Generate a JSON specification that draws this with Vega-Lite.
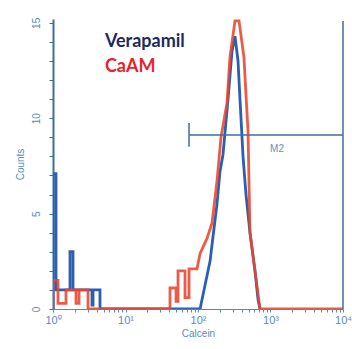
{
  "$schema": "https://vega.github.io/schema/vega-lite/v6.json",
  "width": 290,
  "height": 290,
  "autosize": "none",
  "padding": {"left": 53, "top": 19, "right": 9, "bottom": 40},
  "background": "white",
  "config": {
    "view": {"stroke": null},
    "axis": {"labelFont": "Liberation Sans", "titleFont": "Liberation Sans", "grid": false}
  },
  "datasets": {
    "hist": [
      {"s": "blue", "i": 1, "x": 1, "c": 0},
      {"s": "blue", "i": 2, "x": 1, "c": 7.1},
      {"s": "blue", "i": 3, "x": 1.1, "c": 7.1},
      {"s": "blue", "i": 4, "x": 1.1, "c": 1},
      {"s": "blue", "i": 5, "x": 1.716, "c": 1},
      {"s": "blue", "i": 6, "x": 1.716, "c": 3},
      {"s": "blue", "i": 7, "x": 1.888, "c": 3},
      {"s": "blue", "i": 8, "x": 1.888, "c": 1},
      {"s": "blue", "i": 9, "x": 3.451, "c": 1},
      {"s": "blue", "i": 10, "x": 3.451, "c": 0.2},
      {"s": "blue", "i": 11, "x": 3.565, "c": 0.2},
      {"s": "blue", "i": 12, "x": 3.565, "c": 1},
      {"s": "blue", "i": 13, "x": 4.446, "c": 1},
      {"s": "blue", "i": 14, "x": 4.446, "c": 0},
      {"s": "blue", "i": 15, "x": 106.7, "c": 0},
      {"s": "blue", "i": 16, "x": 121.1, "c": 1},
      {"s": "blue", "i": 17, "x": 137.4, "c": 2},
      {"s": "blue", "i": 18, "x": 146.6, "c": 2.5},
      {"s": "blue", "i": 19, "x": 161.1, "c": 3.8},
      {"s": "blue", "i": 20, "x": 182.8, "c": 5.5},
      {"s": "blue", "i": 21, "x": 200.9, "c": 7.2},
      {"s": "blue", "i": 22, "x": 221.3, "c": 8.1},
      {"s": "blue", "i": 23, "x": 259.4, "c": 11},
      {"s": "blue", "i": 24, "x": 294.4, "c": 13.5},
      {"s": "blue", "i": 25, "x": 323.6, "c": 14.3},
      {"s": "blue", "i": 26, "x": 356.5, "c": 13},
      {"s": "blue", "i": 27, "x": 379.3, "c": 11},
      {"s": "blue", "i": 28, "x": 417.8, "c": 8},
      {"s": "blue", "i": 29, "x": 459.2, "c": 6},
      {"s": "blue", "i": 30, "x": 521.2, "c": 4},
      {"s": "blue", "i": 31, "x": 610.9, "c": 2},
      {"s": "blue", "i": 32, "x": 673, "c": 0.5},
      {"s": "blue", "i": 33, "x": 716.1, "c": 0},
      {"s": "red", "i": 1, "x": 1, "c": 0},
      {"s": "red", "i": 2, "x": 1, "c": 1.5},
      {"s": "red", "i": 3, "x": 1.172, "c": 1.5},
      {"s": "red", "i": 4, "x": 1.172, "c": 0.3},
      {"s": "red", "i": 5, "x": 1.51, "c": 0.3},
      {"s": "red", "i": 6, "x": 1.51, "c": 1},
      {"s": "red", "i": 7, "x": 2.075, "c": 1},
      {"s": "red", "i": 8, "x": 2.075, "c": 0.3},
      {"s": "red", "i": 9, "x": 2.286, "c": 0.3},
      {"s": "red", "i": 10, "x": 2.286, "c": 1},
      {"s": "red", "i": 11, "x": 3.041, "c": 1},
      {"s": "red", "i": 12, "x": 3.041, "c": 0},
      {"s": "red", "i": 13, "x": 41.1, "c": 0},
      {"s": "red", "i": 14, "x": 41.1, "c": 1.1},
      {"s": "red", "i": 15, "x": 49.8, "c": 1.1},
      {"s": "red", "i": 16, "x": 49.8, "c": 0.4},
      {"s": "red", "i": 17, "x": 53, "c": 0.4},
      {"s": "red", "i": 18, "x": 53, "c": 2},
      {"s": "red", "i": 19, "x": 66.2, "c": 2},
      {"s": "red", "i": 20, "x": 66.2, "c": 0.6},
      {"s": "red", "i": 21, "x": 75.2, "c": 0.6},
      {"s": "red", "i": 22, "x": 75.2, "c": 2.1},
      {"s": "red", "i": 23, "x": 96.8, "c": 2.1},
      {"s": "red", "i": 24, "x": 106.7, "c": 2.9},
      {"s": "red", "i": 25, "x": 133, "c": 3.7},
      {"s": "red", "i": 26, "x": 156, "c": 4.5},
      {"s": "red", "i": 27, "x": 182.8, "c": 6.7},
      {"s": "red", "i": 28, "x": 207.5, "c": 9},
      {"s": "red", "i": 29, "x": 251.2, "c": 10.8},
      {"s": "red", "i": 30, "x": 276.1, "c": 13.2},
      {"s": "red", "i": 31, "x": 323.6, "c": 15.1},
      {"s": "red", "i": 32, "x": 368, "c": 15.1},
      {"s": "red", "i": 33, "x": 430, "c": 13.2},
      {"s": "red", "i": 34, "x": 489.8, "c": 9.3},
      {"s": "red", "i": 35, "x": 521.2, "c": 4},
      {"s": "red", "i": 36, "x": 610.9, "c": 2},
      {"s": "red", "i": 37, "x": 716.1, "c": 0},
      {"s": "red", "i": 38, "x": 10000, "c": 0}
    ],
    "marker": [{"x": 75.2, "x2": 10000, "y": 9.12, "ylo": 8.5, "yhi": 9.75}],
    "edge": [{"x": 10000, "y": 0, "y2": 15.1}],
    "labels": [
      {"t": "Verapamil", "x": 5.2, "y": 13.75, "col": "#1f2a5e"},
      {"t": "CaAM", "x": 5.2, "y": 12.42, "col": "#e8232a"}
    ],
    "m2": [{"t": "M2", "x": 1230, "y": 8.23}]
  },
  "layer": [
    {
      "data": {"name": "hist"},
      "transform": [{"filter": "datum.s == 'blue'"}],
      "mark": {"type": "line", "color": "#2b5fb4", "strokeWidth": 2.8, "clip": true},
      "encoding": {
        "x": {
          "field": "x", "type": "quantitative",
          "scale": {"type": "log", "domain": [1, 10000], "nice": false},
          "axis": {
            "title": "Calcein",
            "values": [1,2,3,4,5,6,7,8,9,10,20,30,40,50,60,70,80,90,100,200,300,400,500,600,700,800,900,1000,2000,3000,4000,5000,6000,7000,8000,9000,10000],
            "tickCount": 40,
            "labelExpr": "datum.value == 1 ? '10⁰' : datum.value == 10 ? '10¹' : datum.value == 100 ? '10²' : datum.value == 1000 ? '10³' : datum.value == 10000 ? '10⁴' : ''",
            "labelColor": "#5b8cba", "labelFontSize": 11, "labelPadding": 2,
            "titleColor": "#5b8cba", "titleFontSize": 10, "titleFontWeight": "normal", "titlePadding": 3,
            "domainColor": "#e05a3a", "tickColor": "#5b8cba", "tickSize": 3,
            "labelOverlap": false, "labelFlush": false
          }
        },
        "y": {
          "field": "c", "type": "quantitative",
          "scale": {"domain": [0, 15.2], "nice": false},
          "axis": {
            "title": "Counts",
            "values": [0,1,2,3,4,5,6,7,8,9,10,11,12,13,14,15],
            "tickCount": 20,
            "labelExpr": "datum.value == 0 ? '0' : datum.value == 5 ? '5' : datum.value == 10 ? '10' : datum.value == 15 ? '15' : ''",
            "labelAngle": -90, "labelAlign": "center", "labelBaseline": "bottom",
            "labelColor": "#5b8cba", "labelFontSize": 10, "labelPadding": 8,
            "titleColor": "#5b8cba", "titleFontSize": 10, "titleFontWeight": "normal", "titlePadding": 6,
            "domainColor": "#3f6f9c", "domainWidth": 2, "tickColor": "#3f6f9c", "tickSize": 4,
            "labelOverlap": false
          }
        },
        "order": {"field": "i", "type": "quantitative"}
      }
    },
    {
      "data": {"name": "hist"},
      "transform": [{"filter": "datum.s == 'red'"}],
      "mark": {"type": "line", "color": "#e8452e", "strokeWidth": 2.8, "opacity": 0.88, "clip": true},
      "encoding": {
        "x": {"field": "x", "type": "quantitative"},
        "y": {"field": "c", "type": "quantitative"},
        "order": {"field": "i", "type": "quantitative"}
      }
    },
    {
      "data": {"name": "marker"},
      "mark": {"type": "rule", "color": "#3f6f9c", "strokeWidth": 1.5},
      "encoding": {
        "x": {"field": "x", "type": "quantitative"},
        "x2": {"field": "x2"},
        "y": {"field": "y", "type": "quantitative"}
      }
    },
    {
      "data": {"name": "marker"},
      "mark": {"type": "rule", "color": "#3f6f9c", "strokeWidth": 1.5},
      "encoding": {
        "x": {"field": "x", "type": "quantitative"},
        "y": {"field": "ylo", "type": "quantitative"},
        "y2": {"field": "yhi"}
      }
    },
    {
      "data": {"name": "edge"},
      "mark": {"type": "rule", "color": "#3f6f9c", "strokeWidth": 1.5},
      "encoding": {
        "x": {"field": "x", "type": "quantitative"},
        "y": {"field": "y", "type": "quantitative"},
        "y2": {"field": "y2"}
      }
    },
    {
      "data": {"name": "m2"},
      "mark": {"type": "text", "font": "Liberation Sans", "fontSize": 10, "color": "#6a8fb0", "align": "center", "baseline": "alphabetic"},
      "encoding": {
        "x": {"field": "x", "type": "quantitative"},
        "y": {"field": "y", "type": "quantitative"},
        "text": {"field": "t"}
      }
    },
    {
      "data": {"name": "labels"},
      "mark": {"type": "text", "font": "Lato", "fontWeight": "bold", "fontSize": 18, "align": "left", "baseline": "alphabetic"},
      "encoding": {
        "x": {"field": "x", "type": "quantitative"},
        "y": {"field": "y", "type": "quantitative"},
        "text": {"field": "t"},
        "color": {"field": "col", "type": "nominal", "scale": null}
      }
    }
  ]
}
